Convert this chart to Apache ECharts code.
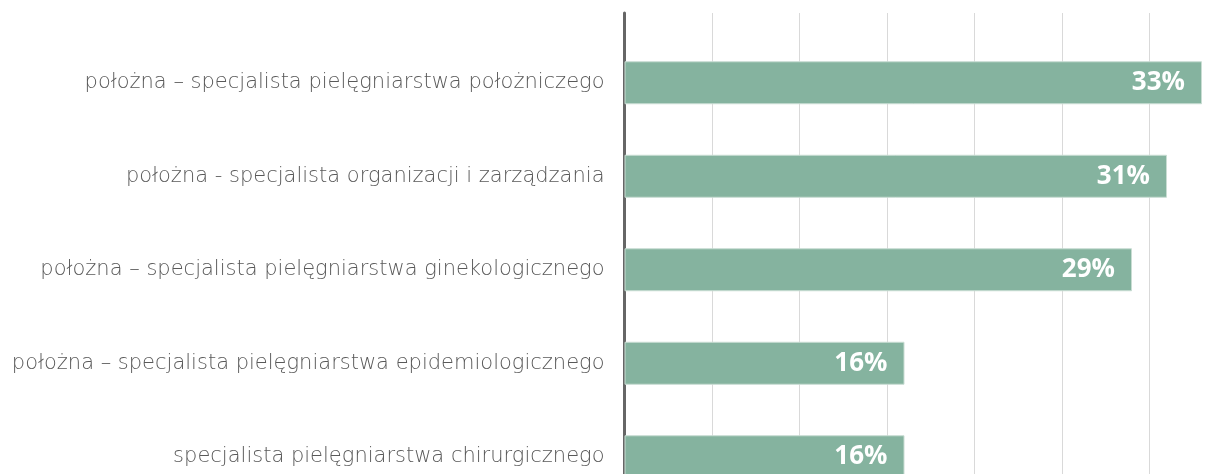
<!DOCTYPE html>
<html>
<head>
<meta charset="utf-8">
<script src="https://cdn.jsdelivr.net/npm/echarts@6/dist/echarts.min.js"></script>
<style>
  html, body { margin: 0; padding: 0; background: #fff; }
  #main { width: 1224px; height: 474px; }
</style>
</head>
<body>
<div id="main"></div>
<script>
  // kategorie od góry do dołu
  var categories = [
    'położna – specjalista pielęgniarstwa położniczego',
    'położna - specjalista organizacji i zarządzania',
    'położna – specjalista pielęgniarstwa ginekologicznego',
    'położna – specjalista pielęgniarstwa epidemiologicznego',
    'specjalista pielęgniarstwa chirurgicznego'
  ];
  var values = [33, 31, 29, 16, 16];
  var axisMax = 35;
  var axisStep = 5;

  var chart = echarts.init(document.getElementById('main'));
  var option = {
    animation: false,
    grid: [
      // siatka tła (linie pionowe + oś)
      { left: 624.5, top: 13, width: 612.5, height: 480, outerBoundsMode: 'none' },
      // słupki
      { left: 624.5, top: 36, width: 612.5, height: 467.5, outerBoundsMode: 'none' }
    ],
    xAxis: [{
      gridIndex: 0,
      type: 'value',
      min: 0,
      max: axisMax,
      interval: axisStep,
      axisLine: { show: false },
      axisTick: { show: false },
      axisLabel: { show: false },
      splitLine: { show: true, lineStyle: { color: '#d9d9d9', width: 1 } }
    }, {
      gridIndex: 1,
      type: 'value',
      min: 0,
      max: axisMax,
      interval: axisStep,
      show: false
    }],
    yAxis: [{
      gridIndex: 0,
      type: 'category',
      data: ['x'],
      axisLine: { show: true, lineStyle: { color: '#666666', width: 3 } },
      axisTick: { show: false },
      axisLabel: { show: false },
      splitLine: { show: false }
    }, {
      gridIndex: 1,
      type: 'category',
      inverse: true,
      data: categories,
      axisLine: { show: false },
      axisTick: { show: false },
      axisLabel: {
        margin: 20,
        color: '#595959',
        fontFamily: 'DejaVu Sans',
        fontWeight: 200,
        fontSize: 21
      }
    }],
    series: [{
      type: 'bar',
      xAxisIndex: 1,
      yAxisIndex: 1,
      data: values,
      barWidth: 43,
      itemStyle: {
        color: '#85b39f',
        borderColor: '#c9ddd3',
        borderWidth: 1
      },
      label: {
        show: true,
        position: 'insideRight',
        distance: 17,
        formatter: '{c}%',
        color: '#ffffff',
        fontFamily: 'Open Sans',
        fontWeight: 'bold',
        fontSize: 26
      }
    }]
  };
  chart.setOption(option);
</script>
</body>
</html>
